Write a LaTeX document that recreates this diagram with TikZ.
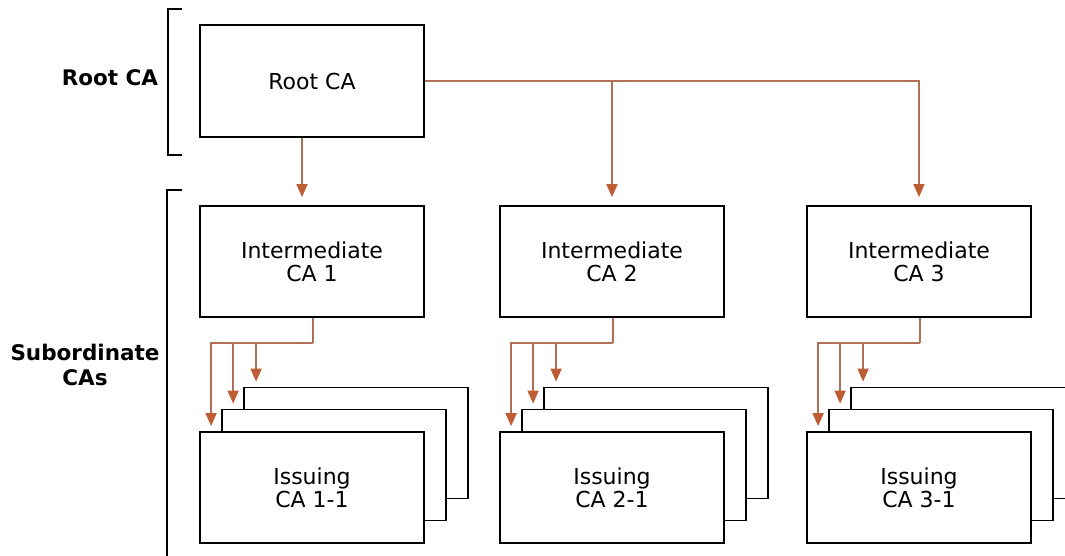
\documentclass[tikz,border=0pt]{standalone}
\usepackage{fontspec}
\setmainfont{DejaVu Sans}
\usetikzlibrary{arrows.meta}
\definecolor{linkc}{RGB}{176,112,88}
\definecolor{tipc}{RGB}{190,92,52}

\begin{document}
\begin{tikzpicture}[
    x=1pt,
    y=-1pt,
    ca/.style={draw, line width=1.8pt, fill=white, minimum width=224pt,
        minimum height=111pt, align=center, font=\fontsize{22}{23}\selectfont},
    conn/.style={draw=linkc, line width=1.5pt,
        -{Triangle[length=13pt, width=11pt, color=tipc]}},
    level/.style={align=center, font=\fontsize{21.5}{25}\selectfont\bfseries},
    bracket/.style={line width=1.8pt}
]
\useasboundingbox (0,0) rectangle (1065,555);

% Levels
\node[level] (lroot) at (110, 78) {Root CA};
\node[level] (lsub) at (85, 365) {Subordinate\\CAs};
\draw[bracket] (182, 9) -- (168, 9) -- (168, 155) -- (182, 155);
\draw[bracket] (182, 190) -- (167, 190) -- (167, 570);

% Root
\node[ca, minimum height=112pt] (root) at (312, 81) {Root CA};

% Intermediate CAs and their issuing CAs
\foreach \i/\off in {1/0, 2/300, 3/607} {
    \node[ca] (int\i) at (312+\off, 261.5) {Intermediate\\CA \i};
    \node[ca] (iss\i c) at (356+\off, 443) {};
    \node[ca] (iss\i b) at (334+\off, 465) {};
    \node[ca] (iss\i a) at (312+\off, 487.5) {Issuing\\CA \i-1};
    \coordinate (j\i) at ([xshift=1pt, yshift=-25pt]int\i.south);
    \draw[draw=linkc, line width=1.5pt] ([xshift=1pt]int\i.south) -- (j\i);
    \foreach \s/\d in {a/12, b/12, c/13}
        \draw[conn] (j\i) -| ([xshift=\d pt, yshift=5pt]iss\i\s.north west);
}

% Root to intermediate
\draw[conn, shorten >=8pt] ([xshift=-10pt]root.south) -- ([xshift=-10pt]int1.north);
\draw[conn, shorten >=8pt] (root.east) -| (int3.north);
\draw[conn, shorten >=8pt] (root.east -| int2.north) -- (int2.north);

\end{tikzpicture}
\end{document}
